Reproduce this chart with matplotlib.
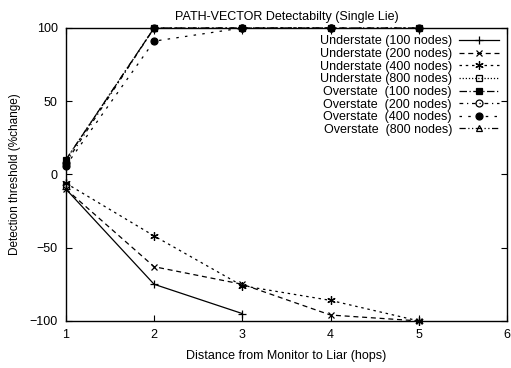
import matplotlib
matplotlib.use("Agg")
import matplotlib.pyplot as plt

hops = [1, 2, 3, 4, 5]
under_100 = [-10, -75, -95]
under_200 = [-10, -63, -75, -96, -100]
under_400 = [-6, -42, -76, -86, -100]
under_800 = [-8]
over_100 = [10, 100, 100, 100, 100]
over_200 = [8, 100, 100, 100]
over_400 = [6, 91, 100, 100, 100]
over_800 = [10, 100]

labels = ["Understate (100 nodes)", "Understate (200 nodes)", "Understate (400 nodes)",
          "Understate (800 nodes)", "Overstate  (100 nodes)", "Overstate  (200 nodes)",
          "Overstate  (400 nodes)", "Overstate  (800 nodes)"]

plt.rcParams['font.family'] = ['Liberation Sans', 'DejaVu Sans']
fig = plt.figure(figsize=(5.11, 3.68), dpi=100)
ax = fig.add_axes([0.129, 0.128, 0.863, 0.796])

series = [under_100, under_200, under_400, under_800, over_100, over_200, over_400, over_800]
styles = [
    dict(ls='-', marker='+', ms=6, mfc='black'),
    dict(ls=(0, (4, 3)), marker='x', ms=5, mfc='black'),
    dict(ls=(0, (2, 3)), marker=(6, 2, 0), ms=6, mfc='black'),
    dict(ls=(0, (1, 1.5)), marker='s', ms=5, mfc='none'),
    dict(ls=(0, (6, 2, 1, 2)), marker='s', ms=5, mfc='black'),
    dict(ls=(0, (3, 3, 1, 3)), marker='o', ms=5, mfc='none'),
    dict(ls=(0, (2, 5)), marker='o', ms=5, mfc='black'),
    dict(ls=(0, (5, 2, 1, 2, 1, 2)), marker='^', ms=5, mfc='none'),
]
for y, lab, st in zip(series, labels, styles):
    ax.plot(hops[:len(y)], y, color='black', lw=0.9, mec='black', mew=0.9,
            label=lab, clip_on=False, **st)

ax.set_xlim(1, 6)
ax.set_ylim(-100, 100)
ax.set_xticks([1, 2, 3, 4, 5, 6])
ax.set_yticks([-100, -50, 0, 50, 100])
ax.tick_params(direction='in', top=True, right=True, labelsize=9, length=4, pad=6)
for s in ax.spines.values():
    s.set_linewidth(1.0)
ax.set_title("PATH-VECTOR Detectabilty (Single Lie)", fontsize=9, pad=6)
ax.set_xlabel("Distance from Monitor to Liar (hops)", fontsize=9, labelpad=6)
ax.set_ylabel("Detection threshold (%change)", fontsize=8.5, labelpad=6)

leg = ax.legend(loc='upper right', frameon=False, markerfirst=False, fontsize=9,
                handlelength=3.2, labelspacing=0.05, borderaxespad=0.2, handletextpad=0.6)
for t in leg.get_texts():
    t.set_ha('right')
fig.canvas.draw()
leg._legend_box.align = 'right'

fig.savefig("out.png", dpi=100)
